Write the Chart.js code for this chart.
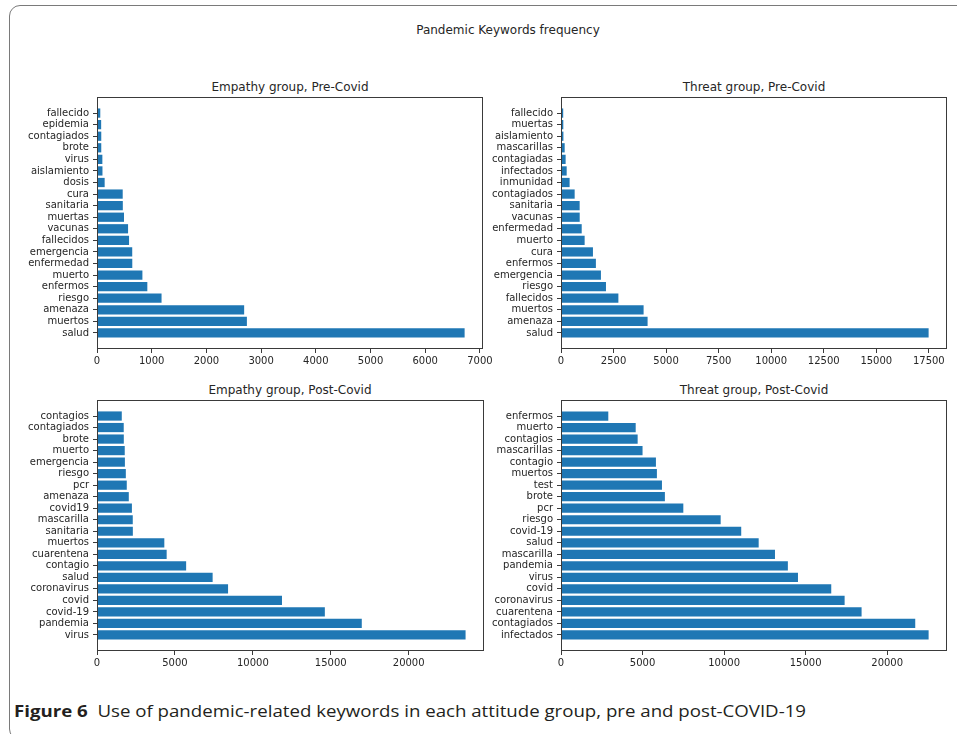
<!DOCTYPE html>
<html>
<head>
<meta charset="utf-8">
<script src="https://cdn.jsdelivr.net/npm/chart.js@4/dist/chart.umd.min.js"></script>
<style>
  html, body { margin: 0; padding: 0; background: #fff; }
  body { width: 957px; height: 734px; position: relative; overflow: hidden; }
  .frame {
    position: absolute; left: 9px; top: 5px; width: 1000px; height: 735px;
    border: 1.5px solid #7a7a7a; border-radius: 11px 0 0 11px; box-sizing: border-box;
  }
  .txt { position: absolute; font-family: 'DejaVu Sans', sans-serif; color: #262626; white-space: nowrap; transform: translate(-50%, -50%); }
  .suptitle { font-size: 12px; }
  .ptitle { font-size: 12px; }
  canvas { position: absolute; }
  #caption {
    position: absolute; left: 14px; top: 700px; font-family: 'Open Sans', 'Noto Sans', sans-serif;
    font-size: 16px; color: #231f20; white-space: nowrap; transform-origin: 0 50%;
  }
  #caption b { font-weight: 700; }
</style>
</head>
<body>
<div class="frame"></div>
<div class="txt suptitle" style="left:508px; top:30px;">Pandemic Keywords frequency</div>
<div class="txt ptitle" style="left:290px; top:87px;">Empathy group, Pre-Covid</div>
<div class="txt ptitle" style="left:754px; top:87px;">Threat group, Pre-Covid</div>
<div class="txt ptitle" style="left:290px; top:390px;">Empathy group, Post-Covid</div>
<div class="txt ptitle" style="left:754px; top:390px;">Threat group, Post-Covid</div>

<canvas id="c1" width="530" height="313" style="left:0px; top:67px;"></canvas>
<canvas id="c2" width="493" height="313" style="left:464px; top:67px;"></canvas>
<canvas id="c3" width="530" height="312" style="left:0px; top:370px;"></canvas>
<canvas id="c4" width="493" height="312" style="left:464px; top:370px;"></canvas>

<div id="caption"><b>Figure 6</b>&nbsp;&nbsp;Use of pandemic-related keywords in each attitude group, pre and post-COVID-19</div>

<script>
// Keyword counts, listed from the bottom bar upwards (largest first)
const empathyPreLabels = ['salud', 'muertos', 'amenaza', 'riesgo', 'enfermos', 'muerto', 'enfermedad', 'emergencia', 'fallecidos', 'vacunas', 'muertas', 'sanitaria', 'cura', 'dosis', 'aislamiento', 'virus', 'brote', 'contagiados', 'epidemia', 'fallecido'];
const empathyPreValues = [6720, 2740, 2690, 1180, 920, 830, 645, 644, 586, 568, 494, 472, 470, 140, 100, 98, 78, 78, 76, 60];

const threatPreLabels = ['salud', 'amenaza', 'muertos', 'fallecidos', 'riesgo', 'emergencia', 'enfermos', 'cura', 'muerto', 'enfermedad', 'vacunas', 'sanitaria', 'contagiados', 'inmunidad', 'infectados', 'contagiadas', 'mascarillas', 'aislamiento', 'muertas', 'fallecido'];
const threatPreValues = [17490, 4120, 3930, 2730, 2140, 1900, 1660, 1520, 1125, 985, 890, 888, 650, 410, 270, 220, 175, 115, 110, 105];

const empathyPostLabels = ['virus', 'pandemia', 'covid-19', 'covid', 'coronavirus', 'salud', 'contagio', 'cuarentena', 'muertos', 'sanitaria', 'mascarilla', 'covid19', 'amenaza', 'pcr', 'riesgo', 'emergencia', 'muerto', 'brote', 'contagiados', 'contagios'];
const empathyPostValues = [23650, 16990, 14620, 11870, 8410, 7420, 5720, 4470, 4320, 2300, 2295, 2240, 2040, 1910, 1850, 1790, 1780, 1720, 1715, 1590];

const threatPostLabels = ['infectados', 'contagiados', 'cuarentena', 'coronavirus', 'covid', 'virus', 'pandemia', 'mascarilla', 'salud', 'covid-19', 'riesgo', 'pcr', 'brote', 'test', 'muertos', 'contagio', 'mascarillas', 'contagios', 'muerto', 'enfermos'];
const threatPostValues = [22540, 21720, 18430, 17390, 16570, 14530, 13910, 13120, 12120, 11050, 9790, 7500, 6370, 6190, 5880, 5820, 5000, 4700, 4580, 2900];

// x-axis tick spacing per panel
const xTickSteps = [1000, 2500, 5000, 5000];

const BAR_BLUE = '#1f77b4';
const INK = '#262626';
const SPINE = '#3a3a3a';

// Draws the closed box of spines around the plot area
const spinesPlugin = {
  id: 'spines',
  afterDraw(chart) {
    const a = chart.chartArea, ctx = chart.ctx;
    ctx.save();
    ctx.strokeStyle = SPINE;
    ctx.lineWidth = 1;
    const l = Math.round(a.left) + 0.5, t = Math.round(a.top) + 0.5;
    const r = Math.round(a.right) - 0.5, b = Math.round(a.bottom) - 0.5;
    ctx.strokeRect(l, t, r - l, b - t);
    ctx.restore();
  }
};

function makePanel(canvasId, labels, values, step, pad) {
  const n = labels.length;
  // matplotlib-style limits: 0.8-high bars plus 5% margins
  const span = n - 0.2;
  const yMin = -0.4 - 0.05 * span;
  const yMax = (n - 1) + 0.4 + 0.05 * span;
  const xMax = Math.max(...values) * 1.05;

  new Chart(document.getElementById(canvasId), {
    type: 'bar',
    data: {
      datasets: [{
        data: values.map((v, i) => ({ x: v, y: i })),
        backgroundColor: BAR_BLUE,
        borderWidth: 0,
        categoryPercentage: 1.0,
        barPercentage: 0.8
      }]
    },
    options: {
      indexAxis: 'y',
      responsive: false,
      animation: false,
      devicePixelRatio: 1,
      layout: { padding: { top: pad.top, right: pad.right, left: 0, bottom: 0 } },
      plugins: { legend: { display: false }, tooltip: { enabled: false }, title: { display: false } },
      scales: {
        y: {
          type: 'linear',
          min: yMin,
          max: yMax,
          offset: false,
          afterBuildTicks(scale) { scale.ticks = labels.map((_, i) => ({ value: i })); },
          afterFit(scale) { scale.width = pad.yWidth; },
          ticks: {
            autoSkip: false,
            padding: 4,
            color: INK,
            font: { family: 'DejaVu Sans', size: 10 },
            callback: (v) => labels[v]
          },
          grid: { display: true, drawOnChartArea: false, drawTicks: true, tickLength: 4, color: SPINE, offset: false },
          border: { display: false }
        },
        x: {
          type: 'linear',
          min: 0,
          max: xMax,
          afterBuildTicks(scale) {
            const t = [];
            for (let v = 0; v <= xMax; v += step) t.push({ value: v });
            scale.ticks = t;
          },
          afterFit(scale) { scale.height = pad.xHeight; },
          ticks: {
            autoSkip: false,
            padding: 2,
            maxRotation: 0,
            color: INK,
            font: { family: 'DejaVu Sans', size: 10 },
            callback: (v) => String(v)
          },
          grid: { display: true, drawOnChartArea: false, drawTicks: true, tickLength: 4, color: SPINE },
          border: { display: false }
        }
      }
    },
    plugins: [spinesPlugin]
  });
}

makePanel('c1', empathyPreLabels, empathyPreValues, xTickSteps[0], { top: 30, right: 47, yWidth: 97, xHeight: 31 });
makePanel('c2', threatPreLabels, threatPreValues, xTickSteps[1], { top: 30, right: 10, yWidth: 97, xHeight: 31 });
makePanel('c3', empathyPostLabels, empathyPostValues, xTickSteps[2], { top: 30, right: 46, yWidth: 97, xHeight: 31 });
makePanel('c4', threatPostLabels, threatPostValues, xTickSteps[3], { top: 30, right: 10, yWidth: 97, xHeight: 31 });

// Stretch the caption line to its column width
const cap = document.getElementById('caption');
const w = cap.getBoundingClientRect().width;
cap.style.transform = 'scaleX(' + (792 / w) + ')';
</script>
</body>
</html>
